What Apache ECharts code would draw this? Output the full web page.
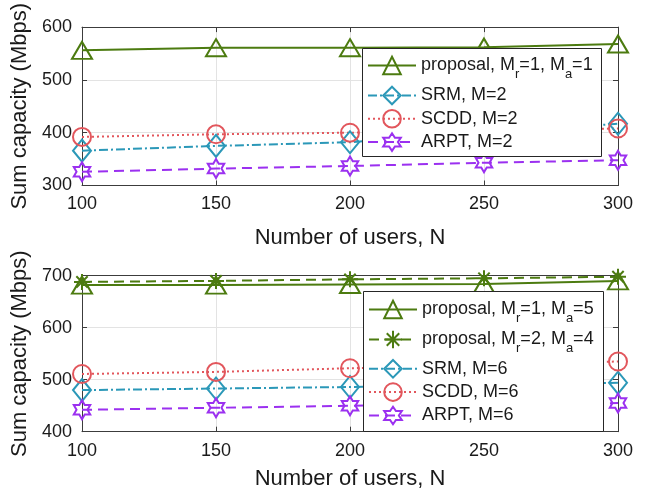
<!DOCTYPE html>
<html>
<head>
<meta charset="utf-8">
<script src="https://cdn.jsdelivr.net/npm/echarts@6/dist/echarts.min.js"></script>
<style>
  html, body { margin: 0; padding: 0; background: #fff; }
  #chart { width: 649px; height: 496px; }
</style>
</head>
<body>
<div id="chart"></div>
<script>
// Number of users on the x axis (shared by both panels)
const users = [100, 150, 200, 250, 300];
const xTicks = [100, 150, 200, 250, 300];

// Upper panel: sum capacity (Mbps)
const yTicksTop = [300, 400, 500, 600];
const proposalM1 = [556, 561, 561, 562, 568];
const srmM2 = [366, 375, 382, 399, 417];
const scddM2 = [392, 397, 400, 404, 408];
const arptM2 = [326, 332, 337, 343, 348];

// Lower panel: sum capacity (Mbps)
const yTicksBottom = [400, 500, 600, 700];
const proposalR1A5 = [682, 682, 683, 684, 690];
const proposalR2A4 = [688, 690, 693, 695, 698];
const srmM6 = [480, 483, 486, 490, 494];
const scddM6 = [511, 515, 522, 528, 535];
const arptM6 = [442, 446, 450, 452, 455];

// Legend labels; "_x" marks a subscript
const namesTop = ['proposal, M_r=1, M_a=1', 'SRM, M=2', 'SCDD, M=2', 'ARPT, M=2'];
const namesBottom = ['proposal, M_r=1, M_a=5', 'proposal, M_r=2, M_a=4', 'SRM, M=6', 'SCDD, M=6', 'ARPT, M=6'];

const FONT = '"Liberation Sans", Arial, Helvetica, sans-serif';
const TXT = '#1a1a1a';
const AX = '#3c3c3c';

const C_GREEN = '#4c7b10';
const C_TEAL = '#2b98b8';
const C_RED = '#e2565c';
const C_PURPLE = '#9b30f0';

const HEXAGRAM = 'path://M50 0 L64.43 25 L93.3 25 L78.87 50 L93.3 75 L64.43 75 L50 100 L35.57 75 L6.7 75 L21.13 50 L6.7 25 L35.57 25 Z';
const ASTERISK = 'path://M50 0 L50 100 M0 50 L100 50 M14.6 14.6 L85.4 85.4 M85.4 14.6 L14.6 85.4';

const DASH = [10, 6];
const DOT = [2, 3];
const DASHDOT = [9, 3, 2, 3];

function pairs(vals) { return users.map((u, i) => [u, vals[i]]); }

function line(name, vals, color, symbol, size, dash, gi) {
  return {
    name: name,
    type: 'line',
    xAxisIndex: gi * 2,
    yAxisIndex: gi * 2,
    data: pairs(vals),
    symbol: symbol,
    symbolSize: size,
    symbolKeepAspect: true,
    showAllSymbol: true,
    z: 2,
    lineStyle: { color: color, width: 2, type: dash },
    itemStyle: { color: 'rgba(0,0,0,0)', borderColor: color, borderWidth: 2 },
    emphasis: { disabled: true },
    animation: false
  };
}

function grid(top, height) {
  return { left: 82, right: 31, top: top, height: height, show: false };
}

function xAxes(gi, nameGap) {
  const base = {
    gridIndex: gi, type: 'value', min: xTicks[0], max: xTicks[xTicks.length - 1], interval: 50,
    axisLine: { show: true, onZero: false, lineStyle: { color: AX, width: 1 } },
    axisTick: { show: true, inside: true, length: 5, lineStyle: { color: AX } }
  };
  return [
    Object.assign({}, base, {
      position: 'bottom',
      axisLabel: { color: TXT, fontSize: 18, fontFamily: FONT, margin: 10 },
      splitLine: { show: true, lineStyle: { color: '#e3e3e3', width: 1 } },
      name: 'Number of users, N', nameLocation: 'middle', nameGap: nameGap,
      nameTextStyle: { color: TXT, fontSize: 22, fontFamily: FONT }
    }),
    Object.assign({}, base, {
      position: 'top', axisLabel: { show: false }, splitLine: { show: false }
    })
  ];
}

function yAxes(gi, ticks) {
  const base = {
    gridIndex: gi, type: 'value', min: ticks[0], max: ticks[ticks.length - 1], interval: 100,
    axisLine: { show: true, onZero: false, lineStyle: { color: AX, width: 1 } },
    axisTick: { show: true, inside: true, length: 5, lineStyle: { color: AX } }
  };
  return [
    Object.assign({}, base, {
      position: 'left',
      axisLabel: { color: TXT, fontSize: 18, fontFamily: FONT, margin: 10 },
      splitLine: { show: true, lineStyle: { color: '#e3e3e3', width: 1 } },
      name: 'Sum capacity (Mbps)', nameLocation: 'middle', nameGap: 37,
      nameTextStyle: { color: TXT, fontSize: 22, fontFamily: FONT }
    }),
    Object.assign({}, base, {
      position: 'right', axisLabel: { show: false }, splitLine: { show: false }
    })
  ];
}

// Turn "M_r" into rich text with a lowered, smaller subscript
function richLabel(name) {
  return '{n|' + name.replace(/_(\w)/g, '}{s|$1}{n|') + '}';
}
const legendText = {
  color: TXT, fontFamily: FONT, fontSize: 18,
  rich: {
    n: { fontSize: 18, fontFamily: FONT, color: TXT, lineHeight: 22, verticalAlign: 'middle' },
    s: { fontSize: 13, fontFamily: FONT, color: TXT, lineHeight: 14, padding: [18, 0, 0, 0], verticalAlign: 'middle' }
  }
};

// One legend row per entry so each row sits at its own height
function legendRows(names, centers, left) {
  return names.map((nm, i) => {
    const h = nm.indexOf('_') >= 0 ? 32 : 22;
    return {
      data: [nm], orient: 'vertical', left: left, top: centers[i] - h / 2,
      padding: 0, itemWidth: 48, itemHeight: 22, itemGap: 0,
      selectedMode: false, z: 5,
      formatter: richLabel, textStyle: legendText
    };
  });
}

const option = {
  backgroundColor: '#ffffff',
  animation: false,
  textStyle: { fontFamily: FONT },
  grid: [grid(26.5, 159), grid(275.7, 156)],
  xAxis: xAxes(0, 41).concat(xAxes(1, 36)),
  yAxis: yAxes(0, yTicksTop).concat(yAxes(1, yTicksBottom)),
  legend: legendRows(namesTop, [66, 96.7, 120, 143.3], 367)
    .concat(legendRows(namesBottom, [310, 340, 370, 393.3, 416.7], 368)),
  graphic: [
    { type: 'rect', z: 4, silent: true,
      shape: { x: 362.5, y: 48.5, width: 239, height: 108 },
      style: { fill: '#fff', stroke: '#262626', lineWidth: 1 } },
    { type: 'rect', z: 4, silent: true,
      shape: { x: 363.5, y: 291.5, width: 240, height: 140 },
      style: { fill: '#fff', stroke: '#262626', lineWidth: 1 } }
  ],
  series: [
    line(namesTop[0], proposalM1, C_GREEN, 'triangle', [20, 17], 'solid', 0),
    line(namesTop[1], srmM2, C_TEAL, 'diamond', [18, 22], DASHDOT, 0),
    line(namesTop[2], scddM2, C_RED, 'circle', 18, DOT, 0),
    line(namesTop[3], arptM2, C_PURPLE, HEXAGRAM, 19, DASH, 0),
    line(namesBottom[0], proposalR1A5, C_GREEN, 'triangle', [20, 17], 'solid', 1),
    line(namesBottom[1], proposalR2A4, C_GREEN, ASTERISK, 16, DASH, 1),
    line(namesBottom[2], srmM6, C_TEAL, 'diamond', [18, 22], DASHDOT, 1),
    line(namesBottom[3], scddM6, C_RED, 'circle', 18, DOT, 1),
    line(namesBottom[4], arptM6, C_PURPLE, HEXAGRAM, 19, DASH, 1)
  ]
};

const chart = echarts.init(document.getElementById('chart'), null, { renderer: 'canvas' });
chart.setOption(option);
</script>
</body>
</html>
